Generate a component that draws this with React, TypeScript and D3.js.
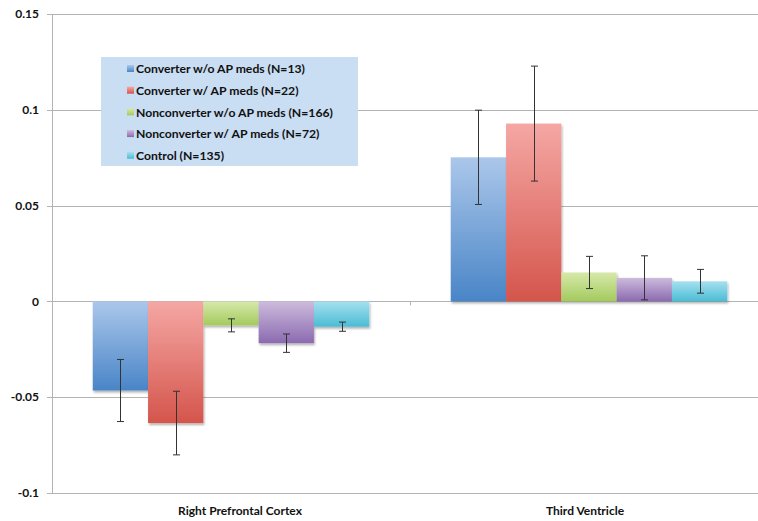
import React from "react";
import * as d3 from "d3";

const categories = ["Right Prefrontal Cortex", "Third Ventricle"];
const series = [
  "Converter w/o AP meds (N=13)",
  "Converter w/ AP meds (N=22)",
  "Nonconverter w/o AP meds (N=166)",
  "Nonconverter w/ AP meds (N=72)",
  "Control (N=135)",
];
// values[series][category]
const rpfcValues = [-0.0465, -0.0635, -0.0125, -0.0218, -0.0132];
const tvValues = [0.0752, 0.0928, 0.0151, 0.0123, 0.0105];
const rpfcErrors = [0.0162, 0.0166, 0.0034, 0.0048, 0.0024];
const tvErrors = [0.0246, 0.0300, 0.0084, 0.0115, 0.0062];
const yTicks = [-0.1, -0.05, 0, 0.05, 0.1, 0.15];
const tickLabels = ["-0.1", "-0.05", "0", "0.05", "0.1", "0.15"];

const colorsTop = ["#abc7ea", "#f5a7a4", "#d6e9aa", "#cdbbdd", "#a6e0f0"];
const colorsBottom = ["#4985c7", "#d4554c", "#a4ca5d", "#8b6ab0", "#4abcd4"];

const W = 758;
const H = 521;
const FONT = "Lato, 'Open Sans', sans-serif";

export default function App() {
  const y = d3.scaleLinear().domain([-0.1, 0.15]).range([493, 14]);
  const x0 = d3.scaleBand<string>().domain(categories).range([52, 768]).padding(0);
  const x1 = d3
    .scaleBand<string>()
    .domain(series)
    .range([0, x0.bandwidth()])
    .paddingInner(0)
    .paddingOuter(0.737);

  const valuesByCat = [rpfcValues, tvValues];
  const errorsByCat = [rpfcErrors, tvErrors];
  const y0 = y(0);

  return (
    <svg
      width={W}
      height={H}
      style={{ position: "absolute", left: 0, top: 0, background: "#fff" }}
      fontFamily={FONT}
    >
      <defs>
        {series.map((s, i) => (
          <linearGradient key={s} id={`g${i}`} x1="0" y1="0" x2="0" y2="1">
            <stop offset="0%" stopColor={colorsTop[i]} />
            <stop offset="100%" stopColor={colorsBottom[i]} />
          </linearGradient>
        ))}
        <filter id="shadow" x="-20%" y="-20%" width="140%" height="140%">
          <feDropShadow dx="1" dy="2" stdDeviation="1.2" floodColor="#000" floodOpacity="0.3" />
        </filter>
      </defs>

      {/* gridlines */}
      {yTicks.map((t) => (
        <line
          key={t}
          x1={47}
          x2={W}
          y1={Math.round(y(t)) + 0.5}
          y2={Math.round(y(t)) + 0.5}
          stroke="#b3b3b3"
          strokeWidth={1}
        />
      ))}
      {/* y axis */}
      <line x1={52.5} x2={52.5} y1={y(0.15)} y2={y(-0.1)} stroke="#b3b3b3" strokeWidth={1} />
      {/* category ticks at zero line */}
      {[...categories.map((c) => x0(c)!), 768].map((xv, i) => (
        <line
          key={i}
          x1={Math.round(xv) + 0.5}
          x2={Math.round(xv) + 0.5}
          y1={y0}
          y2={y0 + 4}
          stroke="#b3b3b3"
        />
      ))}

      {/* y tick labels */}
      {yTicks.map((t, i) => (
        <text
          key={t}
          x={39}
          y={y(t)}
          dy="0.35em"
          textAnchor="end"
          fontSize={12}
          fontWeight="bold"
          fill="#111"
        >
          {tickLabels[i]}
        </text>
      ))}

      {/* bars */}
      {categories.map((c, ci) => (
        <g key={c} transform={`translate(${x0(c)},0)`}>
          {series.map((s, si) => {
            const v = valuesByCat[ci][si];
            const top = Math.min(y(v), y0);
            const h = Math.abs(y(v) - y0);
            return (
              <rect
                key={s}
                x={x1(s)}
                y={top}
                width={x1.bandwidth()}
                height={h}
                fill={`url(#g${si})`}
                filter="url(#shadow)"
              />
            );
          })}
          {series.map((s, si) => {
            const v = valuesByCat[ci][si];
            const e = errorsByCat[ci][si];
            const cx = Math.round(x1(s)! + x1.bandwidth() / 2) + 0.5;
            const ya = y(v + e);
            const yb = y(v - e);
            return (
              <g key={s} stroke="#333" strokeWidth={1}>
                <line x1={cx} x2={cx} y1={ya} y2={yb} />
                <line x1={cx - 3.5} x2={cx + 3.5} y1={ya} y2={ya} />
                <line x1={cx - 3.5} x2={cx + 3.5} y1={yb} y2={yb} />
              </g>
            );
          })}
        </g>
      ))}

      {/* category labels */}
      {categories.map((c) => (
        <text
          key={c}
          x={x0(c)! + x0.bandwidth() / 2 + (c === categories[0] ? 9 : -4)}
          y={515}
          textAnchor="middle"
          fontSize={12}
          fontWeight="bold"
          fill="#111"
        >
          {c}
        </text>
      ))}

      {/* legend */}
      <rect x={101} y={57} width={257} height={109} fill="#c9ddf3" />
      {series.map((s, i) => {
        const ly = 69 + i * 21.7;
        return (
          <g key={s}>
            <rect x={127} y={ly - 4} width={7} height={7} fill={`url(#g${i})`} />
            <text x={136} y={ly} dy="0.35em" fontSize={12.2} fontWeight="bold" fill="#111">
              {s}
            </text>
          </g>
        );
      })}
    </svg>
  );
}
